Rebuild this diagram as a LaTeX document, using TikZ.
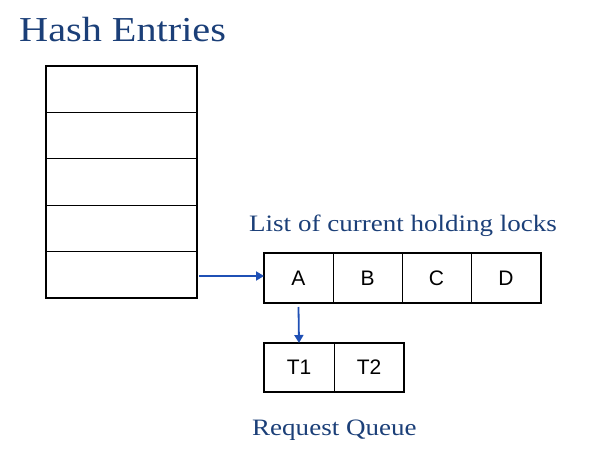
\documentclass[tikz,border=0pt]{standalone}
\usepackage{fontspec}
\setmainfont[FakeStretch=1.15]{Liberation Serif}
\newfontfamily\cellfont{Liberation Sans}
\usetikzlibrary{arrows.meta}
\definecolor{ttl}{HTML}{1B3F78}
\definecolor{arr}{HTML}{1F50B5}
\begin{document}
\begin{tikzpicture}[x=1pt,y=-1pt,
  cellbox/.style={draw=black,line width=0.6pt,minimum height=#1,inner sep=0pt,outer sep=0pt,font=\cellfont\fontsize{21}{21}\selectfont},
  rowbox/.style={draw=black,line width=0.6pt,minimum width=151pt,minimum height=46.4pt,inner sep=0pt,outer sep=0pt},
  lbl/.style={text=ttl,inner sep=0pt,anchor=base west},
  conn/.style={draw=arr,line width=1.8pt,-{Triangle[length=8pt,width=9pt]}}]
\useasboundingbox (0,0) rectangle (597,462);
% hash entries
\foreach \i in {0,...,4}{
  \node[rowbox] (h\i) at (121.5,{89.2+46.4*\i}) {};
}
\draw[line width=1.6pt] (46,66) rectangle (197,298);
\node[lbl,font=\fontsize{35}{35}\selectfont] (title) at (19,42) {Hash Entries};
% locks list
\node[cellbox=50pt,minimum width=69pt] (A) at (298.5,278) {A};
\node[cellbox=50pt,minimum width=69pt] (B) at (367.5,278) {B};
\node[cellbox=50pt,minimum width=69pt] (C) at (436.5,278) {C};
\node[cellbox=50pt,minimum width=70pt] (D) at (506,278) {D};
\draw[line width=1.6pt] (A.north west) rectangle (D.south east);
\node[lbl,font=\fontsize{23.5}{23.5}\selectfont] (ltitle) at (249,232) {List of current holding locks};
% request queue
\node[cellbox=49pt,minimum width=70pt] (T1) at (299,367.5) {T1};
\node[cellbox=49pt,minimum width=70pt] (T2) at (369,367.5) {T2};
\draw[line width=1.6pt] (T1.north west) rectangle (T2.south east);
\node[lbl,font=\fontsize{23.5}{23.5}\selectfont] (qtitle) at (252,435) {Request Queue};
% connectors
\draw[conn] ([xshift=2pt,yshift=-1.2pt]h4.east) -- ([yshift=2pt]A.west);
\draw[conn] ([yshift=-4pt]A.south) -- (T1.north);
\end{tikzpicture}
\end{document}
